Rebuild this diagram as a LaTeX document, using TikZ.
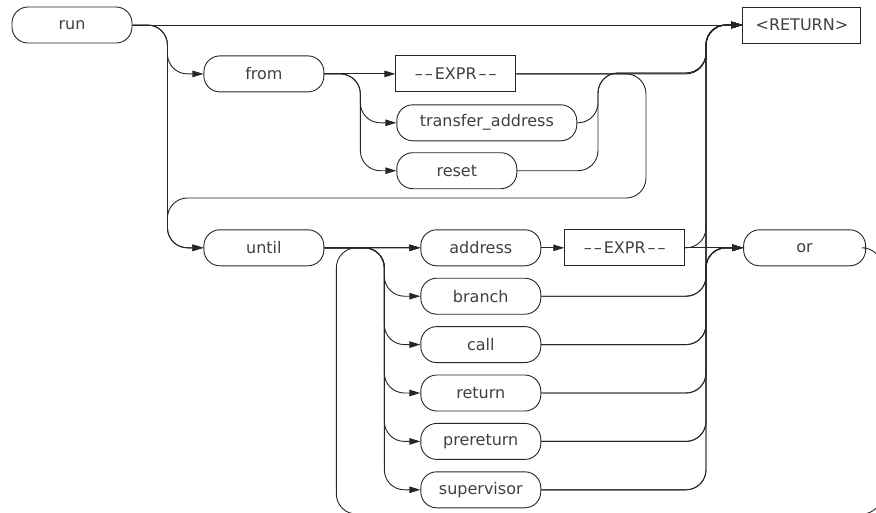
\documentclass[tikz,border=0pt]{standalone}
\usepackage{fontspec}
\setmainfont{DejaVu Sans}
\usetikzlibrary{arrows.meta,positioning}
\tikzset{
  kw/.style={
    rectangle, rounded corners=16pt, draw=black!85, line width=0.9pt,
    minimum width=120pt, minimum height=36pt, inner sep=0pt,
    text=black!75, font=\fontsize{16}{19}\selectfont
  },
  param/.style={
    kw, rounded corners=0pt
  },
  rail/.style={draw=black!85, line width=0.9pt, rounded corners=20pt},
  railto/.style={rail, -{Triangle[length=11pt,width=6.5pt]}}
}
\newcommand{\exprtext}{\textendash\kern2pt\textendash\kern2pt EXPR\kern2pt\textendash\kern2pt\textendash}

\begin{document}
\begin{tikzpicture}[x=1pt, y=-1pt]
  \useasboundingbox (0,0) rectangle (876,512);
  \clip (0,0) rectangle (876,512);

  \node[kw] (run) at (72,25) {run};
  \node[param, minimum width=118pt, right=610pt of run] (ret) {<RETURN>};
  \node[kw, below right=12pt and 71pt of run] (from) {from};
  \node[param, right=71pt of from] (expA) {\exprtext};
  \node[kw, minimum width=180pt, below right=12pt and 1pt of expA.south west] (xfer) {transfer\_address};
  \node[kw, below right=11pt and 0pt of xfer.south west] (reset) {reset};
  \node[kw, below=137pt of from] (until) {until};
  \node[kw, right=96pt of until] (addr) {address};
  \node[param, right=23pt of addr] (expB) {\exprtext};
  \node[kw, minimum width=122pt, right=58pt of expB] (or) {or};
  \node[kw, below=11.5pt of addr] (branch) {branch};
  \node[kw, below=11.5pt of branch] (call) {call};
  \node[kw, below=11.5pt of call] (rtn) {return};
  \node[kw, below=11.5pt of rtn] (prertn) {prereturn};
  \node[kw, below=11.5pt of prertn] (super) {supervisor};

  \coordinate (jA) at (598,73);
  \coordinate (jD) at (646,198);
  \coordinate (jE) at (706,25);
  \coordinate (jR) at (882,514);

  \draw[railto] (run.east) -- (ret.west);
  \draw[railto] (run.east) -| ([xshift=-36pt]from.west) -- (from.west);
  \draw[railto] (run.east) -| ([xshift=-36pt]until.west) -- (until.west);

  \draw[railto] (from.east) -- (expA.west);
  \draw[railto] (from.east) -| ([xshift=-36pt]xfer.west) -- (xfer.west);
  \draw[railto] (from.east) -| ([xshift=-36pt]reset.west) -- (reset.west);
  \draw[railto] (expA.east) -| (jE) -- (ret.west);
  \draw[railto] (xfer.east) -| (jA) -| (jE) -- (ret.west);
  \draw[railto] (reset.east) -| (jA) -| (jE) -- (ret.west);
  \draw[railto] (expA.east) -| (jD) -| ([xshift=-36pt]until.west) -- (until.west);

  \draw[railto] (until.east) -- (addr.west);
  \draw[railto] (until.east) -| ([xshift=-36pt]branch.west) -- (branch.west);
  \draw[railto] (until.east) -| ([xshift=-36pt]call.west) -- (call.west);
  \draw[railto] (until.east) -| ([xshift=-36pt]rtn.west) -- (rtn.west);
  \draw[railto] (until.east) -| ([xshift=-36pt]prertn.west) -- (prertn.west);
  \draw[railto] (until.east) -| ([xshift=-36pt]super.west) -- (super.west);
  \draw[railto] (addr.east) -- (expB.west);

  \draw[railto] (expB.east) -| (jE) -- (ret.west);
  \draw[railto] (expB.east) -- (or.west);
  \draw[railto] (branch.east) -| (jE) -- (ret.west);
  \draw[railto] (branch.east) -| (jE |- or.west) -- (or.west);
  \draw[railto] (call.east) -| (jE) -- (ret.west);
  \draw[railto] (call.east) -| (jE |- or.west) -- (or.west);
  \draw[railto] (rtn.east) -| (jE) -- (ret.west);
  \draw[railto] (rtn.east) -| (jE |- or.west) -- (or.west);
  \draw[railto] (prertn.east) -| (jE) -- (ret.west);
  \draw[railto] (prertn.east) -| (jE |- or.west) -- (or.west);
  \draw[railto] (super.east) -| (jE) -- (ret.west);
  \draw[railto] (super.east) -| (jE |- or.west) -- (or.west);

  \draw[railto] (or.east) -| (jR) -| ([xshift=-84pt]addr.west) -- (addr.west);
\end{tikzpicture}
\end{document}
